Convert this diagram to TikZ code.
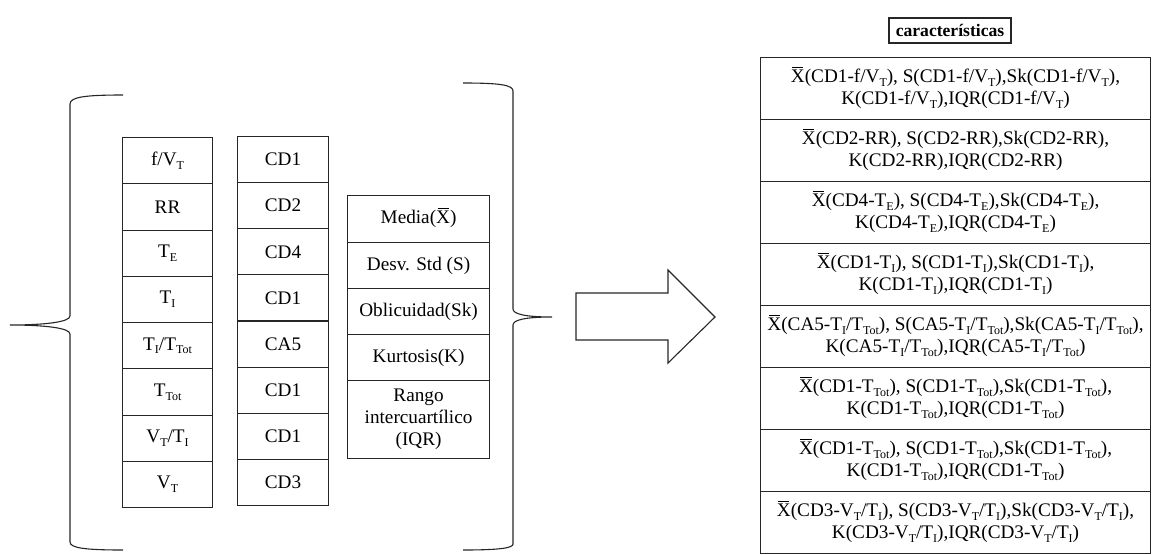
\documentclass[tikz,border=0pt]{standalone}
\usepackage{fontspec}
\setmainfont{Liberation Serif}
\newcommand\sbs[1]{\raisebox{-0.2em}{\fontsize{12}{12}\selectfont #1}}
\newcommand\Xb{\ooalign{X\cr\hidewidth\rule[0.74em]{0.58em}{0.055em}\hidewidth\cr}}
\tikzset{
  ln/.style={line width=1.1pt, draw=black!85},
  txt/.style={font=\fontsize{19.2}{22}\selectfont},
  cell/.style={ln, inner sep=0pt, anchor=north west, align=center, txt},
}
\begin{document}
\begin{tikzpicture}[x=1pt,y=-1pt]
\useasboundingbox (0,0) rectangle (1153,554);
% left brace
\draw[ln] (123,95) .. controls (85,95) and (70,97) .. (70,104) -- (70,316)
  .. controls (70,322) and (45,325) .. (10,325)
  .. controls (45,325) and (70,328) .. (70,334) -- (70,542)
  .. controls (70,548) and (85,550) .. (123,550);
% column 1
\foreach \t [count=\i] in {f/V\sbs{T}, RR, T\sbs{E}, T\sbs{I}, T\sbs{I}/T\sbs{Tot}, T\sbs{Tot}, V\sbs{T}/T\sbs{I}, V\sbs{T}}
  \node[cell, minimum width=90pt, minimum height=46.25pt] (a\i) at (122,{137+(\i-1)*46.25}) {\t};
% column 2
\foreach \t [count=\i] in {CD1, CD2, CD4, CD1, CA5, CD1, CD1, CD3}
  \node[cell, minimum width=91pt, minimum height=46.1pt] (b\i) at (237,{136+(\i-1)*46.1}) {\t};
% column 3
\node[cell, minimum width=142pt, minimum height=47pt] (c1) at (347,195) {Media(\Xb)};
\node[cell, minimum width=142pt, minimum height=46pt] (c2) at (347,242) {Desv. Std (S)};
\node[cell, minimum width=142pt, minimum height=46pt] (c3) at (347,288) {Oblicuidad(Sk)};
\node[cell, minimum width=142pt, minimum height=46pt] (c4) at (347,334) {Kurtosis(K)};
\node[cell, minimum width=142pt, minimum height=78pt] (c5) at (347,380) {Rango\\intercuartílico\\(IQR)};
% right brace
\draw[ln] (463,83) .. controls (500,83) and (513,85) .. (513,91) -- (513,309)
  .. controls (513,314) and (525,317) .. (552,317)
  .. controls (525,317) and (513,320) .. (513,325) -- (513,544)
  .. controls (513,548) and (500,550) .. (463,550);
% block arrow
\draw[ln] (576,293) -- (668,293) -- (668,270) -- (715,317) -- (668,363) -- (668,340) -- (576,340) -- cycle;
% header
\node[ln, draw, inner sep=0pt, minimum width=122pt, minimum height=25pt, font=\fontsize{17.6}{20}\selectfont\bfseries] (hdr) at (950,30.5) {características};
% right table
\foreach \t [count=\i] in {
  {\Xb(CD1-f/V\sbs{T}), S(CD1-f/V\sbs{T}),Sk(CD1-f/V\sbs{T}),\\K(CD1-f/V\sbs{T}),IQR(CD1-f/V\sbs{T})},
  {\Xb(CD2-RR), S(CD2-RR),Sk(CD2-RR),\\K(CD2-RR),IQR(CD2-RR)},
  {\Xb(CD4-T\sbs{E}), S(CD4-T\sbs{E}),Sk(CD4-T\sbs{E}),\\K(CD4-T\sbs{E}),IQR(CD4-T\sbs{E})},
  {\Xb(CD1-T\sbs{I}), S(CD1-T\sbs{I}),Sk(CD1-T\sbs{I}),\\K(CD1-T\sbs{I}),IQR(CD1-T\sbs{I})},
  {\Xb(CA5-T\sbs{I}/T\sbs{Tot}), S(CA5-T\sbs{I}/T\sbs{Tot}),Sk(CA5-T\sbs{I}/T\sbs{Tot}),\\K(CA5-T\sbs{I}/T\sbs{Tot}),IQR(CA5-T\sbs{I}/T\sbs{Tot})},
  {\Xb(CD1-T\sbs{Tot}), S(CD1-T\sbs{Tot}),Sk(CD1-T\sbs{Tot}),\\K(CD1-T\sbs{Tot}),IQR(CD1-T\sbs{Tot})},
  {\Xb(CD1-T\sbs{Tot}), S(CD1-T\sbs{Tot}),Sk(CD1-T\sbs{Tot}),\\K(CD1-T\sbs{Tot}),IQR(CD1-T\sbs{Tot})},
  {\Xb(CD3-V\sbs{T}/T\sbs{I}), S(CD3-V\sbs{T}/T\sbs{I}),Sk(CD3-V\sbs{T}/T\sbs{I}),\\K(CD3-V\sbs{T}/T\sbs{I}),IQR(CD3-V\sbs{T}/T\sbs{I})}}
  \node[cell, minimum width=390pt, minimum height=62pt] (r\i) at (760,{57+(\i-1)*62}) {\t};
\end{tikzpicture}
\end{document}
